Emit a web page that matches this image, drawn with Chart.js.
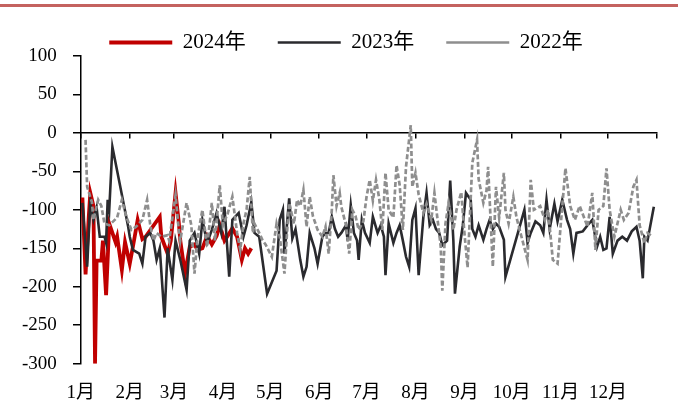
<!DOCTYPE html>
<html><head><meta charset="utf-8">
<script src="https://cdn.jsdelivr.net/npm/chart.js@4.4.1/dist/chart.umd.min.js"></script>
<style>
html,body{margin:0;padding:0;background:#fff;}
#wrap{position:relative;width:678px;height:406px;overflow:hidden;}
#topline{position:absolute;left:0;top:4px;width:678px;height:3px;background:#C4625F;}
canvas{position:absolute;left:0;top:0;}
</style></head><body>
<div id="wrap"><div id="topline"></div><canvas id="c" width="678" height="406"></canvas></div>
<script>
// ---- data (x = day of year, y = value) ----
const monthStarts = [0,31,59,90,120,151,181,212,243,273,304,334];
const monthLabels = ['1月','2月','3月','4月','5月','6月','7月','8月','9月','10月','11月','12月'];
const yearEnd = 365;
const seriesNames = ['2024年','2023年','2022年'];

const days2024 = [1,3,5,6,8,9,10,13,14,16,18,22,23,26,28,31,33,36,39,41,50,51,55,57,60,62,63,66,69,72,74,77,80,83,86,88,91,93,96,99,102,104,106,108];
const vals2024 = [-84,-184,-110,-78,-95,-300,-166,-166,-140,-211,-118,-142,-135,-178,-142,-170,-148,-113,-138,-135,-109,-135,-157,-140,-78,-115,-140,-183,-148,-145,-152,-150,-134,-145,-134,-120,-140,-134,-124,-135,-165,-150,-157,-150];

const days2023 = [1,4,6,8,10,12,15,16,17,18,20,30,31,33,37,39,41,44,46,48,50,53,55,58,60,63,67,69,72,75,77,80,83,86,89,91,94,96,100,103,105,108,110,113,118,124,126,128,129,132,134,136,139,141,143,145,148,150,153,155,157,159,161,163,165,168,169,171,173,175,176,178,180,183,185,188,190,192,193,195,198,200,202,204,206,208,210,212,214,217,219,221,223,225,227,229,232,234,236,237,240,242,244,247,248,250,252,255,257,259,261,263,265,268,269,281,283,285,288,291,293,295,297,300,302,305,308,310,312,314,318,321,324,327,329,331,333,335,337,340,343,346,349,352,354,356,357,359,363];
const vals2023 = [-91,-174,-91,-113,-97,-135,-135,-143,-87,-100,-18,-122,-135,-152,-157,-170,-135,-130,-140,-165,-150,-240,-150,-191,-140,-165,-204,-140,-130,-157,-113,-143,-126,-104,-130,-96,-187,-113,-104,-135,-120,-90,-130,-135,-209,-179,-113,-100,-157,-85,-137,-125,-165,-187,-174,-130,-150,-170,-135,-130,-130,-109,-125,-135,-130,-120,-140,-94,-130,-140,-165,-113,-130,-143,-109,-130,-120,-135,-185,-118,-143,-130,-120,-140,-161,-174,-113,-98,-185,-109,-78,-120,-113,-125,-130,-146,-140,-62,-140,-209,-148,-120,-78,-87,-125,-135,-120,-139,-125,-113,-125,-118,-122,-139,-187,-100,-143,-130,-115,-120,-130,-87,-125,-92,-115,-87,-113,-125,-157,-130,-128,-120,-113,-148,-135,-152,-150,-109,-157,-140,-135,-140,-128,-122,-140,-189,-135,-140,-96];

const days2022 = [3,4,7,8,11,13,15,18,23,26,29,32,35,39,42,44,46,48,51,55,56,60,62,63,67,70,72,74,77,80,83,85,88,90,93,96,99,101,103,105,107,109,110,113,115,117,121,124,126,129,131,132,135,137,139,141,143,145,147,150,153,155,157,159,160,162,164,165,168,170,172,174,176,179,181,183,185,187,189,191,193,195,198,200,202,204,206,207,209,210,212,214,217,219,222,224,226,228,229,231,233,236,238,241,243,245,248,251,252,255,257,258,261,263,265,268,269,271,274,276,278,283,285,287,291,294,296,299,302,305,307,310,313,316,321,324,326,328,331,333,335,338,342,344,347,350,352,354,357,359,362];
const vals2022 = [-9,-70,-90,-113,-87,-95,-118,-120,-110,-87,-110,-126,-122,-113,-87,-120,-140,-130,-135,-133,-140,-81,-125,-140,-91,-120,-183,-135,-100,-148,-91,-140,-68,-120,-105,-83,-130,-152,-118,-100,-57,-130,-118,-130,-139,-145,-161,-118,-135,-183,-118,-91,-118,-87,-95,-74,-122,-83,-108,-126,-135,-122,-157,-100,-55,-95,-78,-96,-120,-157,-100,-108,-126,-115,-83,-61,-88,-61,-85,-126,-52,-100,-110,-42,-68,-126,-44,-26,10,-70,-52,-80,-104,-92,-113,-78,-113,-148,-205,-118,-91,-126,-100,-77,-130,-175,-39,-9,-60,-91,-75,-44,-174,-70,-110,-52,-100,-118,-83,-110,-126,-165,-61,-100,-95,-113,-100,-165,-170,-95,-46,-95,-113,-95,-122,-78,-152,-100,-95,-46,-100,-135,-100,-113,-104,-70,-61,-120,-143,-130,-135];

const yMin = -300, yMax = 100, yStep = 50;

// ---- chart ----
function pts(d, v){ return d.map((x,i)=>({x:x, y:v[i]})); }
const FONT = "'Liberation Serif', 'Times New Roman', 'Noto Sans CJK SC', serif";
Chart.defaults.font.family = FONT;
Chart.defaults.color = '#000';
const CLEAR = 'rgba(0,0,0,0)';

new Chart(document.getElementById('c'), {
  type: 'line',
  data: {
    datasets: [
      { label: seriesNames[0], data: pts(days2024, vals2024), borderColor: '#C00000', backgroundColor: '#C00000', borderWidth: 3.8, pointRadius: 0, tension: 0, order: 2 },
      { label: seriesNames[1], data: pts(days2023, vals2023), borderColor: '#2A2A2E', backgroundColor: '#2A2A2E', borderWidth: 2.6, pointRadius: 0, tension: 0, order: 1 },
      { label: seriesNames[2], data: pts(days2022, vals2022), borderColor: '#8E8E8E', backgroundColor: '#8E8E8E', borderWidth: 2.7, borderDash: [5,2.5], pointRadius: 0, tension: 0, order: 0 }
    ]
  },
  options: {
    responsive: false,
    animation: false,
    layout: { padding: { left: 22, right: 8, top: 0, bottom: 0 } },
    plugins: {
      tooltip: { enabled: false },
      legend: {
        position: 'top',
        maxHeight: 56,
        labels: {
          usePointStyle: true,
          pointStyle: 'line',
          pointStyleWidth: 63,
          padding: 32,
          font: { size: 21, family: FONT },
          color: '#000',
          sort: (a, b) => a.datasetIndex - b.datasetIndex
        }
      }
    },
    scales: {
      x: {
        type: 'linear', axis: 'x', min: 0, max: yearEnd,
        position: { y: 0 },
        afterBuildTicks: (ax) => { ax.ticks = monthStarts.concat([yearEnd]).map(v => ({ value: v })); },
        grid: { drawOnChartArea: false, drawTicks: true, tickLength: 5, color: '#000', lineWidth: 1.5 },
        border: { display: true, color: '#000', width: 1.5 },
        ticks: { display: false }
      },
      xLabels: {
        type: 'linear', axis: 'x', min: 0, max: yearEnd, position: 'bottom',
        afterBuildTicks: (ax) => { ax.ticks = monthStarts.map(v => ({ value: v })); },
        grid: { display: true, drawOnChartArea: false, drawTicks: true, tickLength: 15.5, color: CLEAR },
        border: { display: false },
        ticks: { autoSkip: false, maxRotation: 0, padding: 2, font: { size: 19 }, color: '#000',
                 callback: (v, i) => monthLabels[i] }
      },
      y: {
        type: 'linear', position: 'left', min: yMin, max: yMax,
        ticks: { stepSize: yStep, padding: 0, font: { size: 19 }, color: '#000' },
        grid: { drawOnChartArea: false, drawTicks: true, tickLength: 24, color: CLEAR },
        border: { display: false }
      },
      yLine: {
        type: 'linear', axis: 'y', position: { x: 0 }, min: yMin, max: yMax,
        ticks: { display: false, stepSize: yStep },
        grid: { drawOnChartArea: false, drawTicks: true, tickLength: 7, color: '#000', lineWidth: 1.5 },
        border: { display: true, color: '#000', width: 1.5 }
      },
      yR: {
        type: 'linear', axis: 'y', position: 'right', display: true,
        grid: { drawOnChartArea: false, drawTicks: true, tickLength: 13, color: CLEAR },
        border: { display: false },
        ticks: { display: false }
      }
    }
  }
});
</script>
</body></html>
